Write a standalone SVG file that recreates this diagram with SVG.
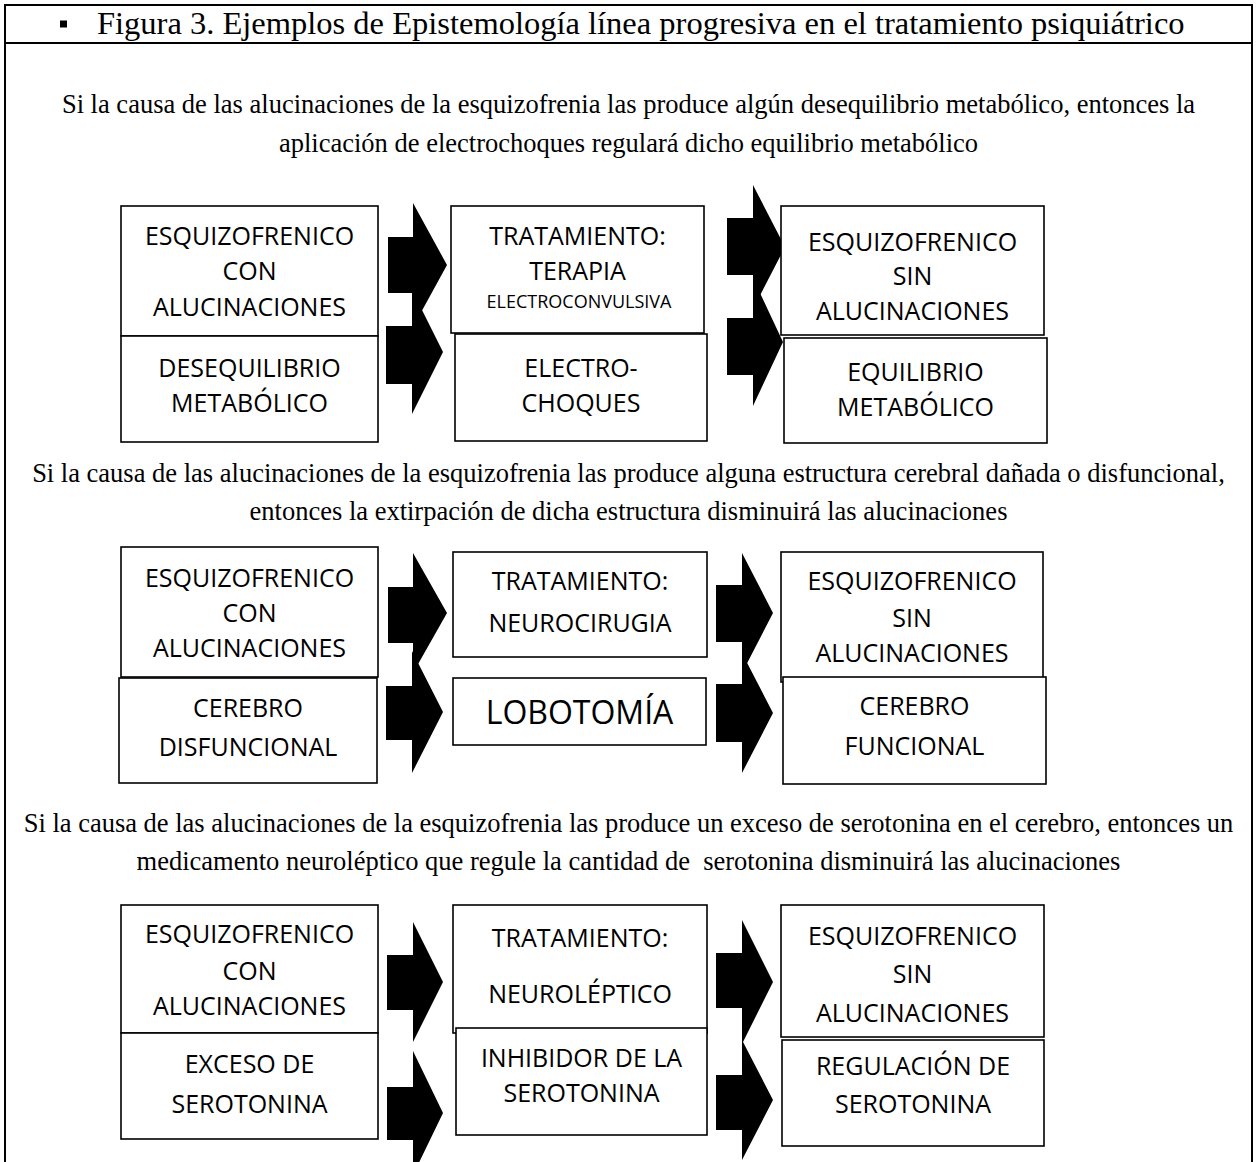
<svg xmlns="http://www.w3.org/2000/svg" width="1257" height="1162" viewBox="0 0 1257 1162">
  <style>
    .frame { fill: none; stroke: #000; stroke-width: 2; }
    .box { fill: #fff; stroke: #000; stroke-width: 1.6; }
    .arrow { fill: #000; stroke: none; }
    .lbl { font-family: "Open Sans", "Noto Sans", sans-serif; font-size: 25px; fill: #000; text-anchor: middle; }
    .small { font-size: 18px; }
    .big { font-size: 32px; }
    .title { font-family: "Liberation Serif", "Times New Roman", serif; font-size: 32.5px; fill: #000; }
    .para { font-family: "Liberation Serif", "Times New Roman", serif; font-size: 26.5px; fill: #000; text-anchor: middle; }
  </style>
  <rect width="1257" height="1162" fill="#fff"/>

  <!-- table frame -->
  <g id="frame">
    <line class="frame" x1="5" y1="5" x2="1252" y2="5"/>
    <line class="frame" x1="5" y1="43" x2="1252" y2="43"/>
    <line class="frame" x1="5" y1="4" x2="5" y2="1162"/>
    <line class="frame" x1="1252" y1="4" x2="1252" y2="1162"/>
  </g>

  <!-- caption -->
  <g id="caption">
    <rect x="60" y="20.5" width="7" height="7" fill="#000"/>
    <text class="title" x="97" y="34">Figura 3. Ejemplos de Epistemología línea progresiva en el tratamiento psiquiátrico</text>
  </g>

  <!-- hypotheses -->
  <g id="hypotheses">
    <text class="para" x="628.5" y="113">Si la causa de las alucinaciones de la esquizofrenia las produce algún desequilibrio metabólico, entonces la</text>
    <text class="para" x="628.5" y="152">aplicación de electrochoques regulará dicho equilibrio metabólico</text>
    <text class="para" x="628.5" y="482">Si la causa de las alucinaciones de la esquizofrenia las produce alguna estructura cerebral dañada o disfuncional,</text>
    <text class="para" x="628.5" y="520">entonces la extirpación de dicha estructura disminuirá las alucinaciones</text>
    <text class="para" x="628.5" y="832">Si la causa de las alucinaciones de la esquizofrenia las produce un exceso de serotonina en el cerebro, entonces un</text>
    <text class="para" x="628.5" y="870" xml:space="preserve">medicamento neuroléptico que regule la cantidad de  serotonina disminuirá las alucinaciones</text>
  </g>

  <!-- block arrows -->
  <g id="connectors">
    <polygon class="arrow" points="388,237 413,237 413,203 447,265 413,327 413,293 388,293"/>
    <polygon class="arrow" points="386,326 412,326 412,290 443,352 412,414 412,384 386,384"/>
    <polygon class="arrow" points="727,218 753,218 753,185 785,247 753,309 753,275 727,275"/>
    <polygon class="arrow" points="727,318 753,318 753,278 783,342 753,406 753,375 727,375"/>

    <polygon class="arrow" points="388,587 413,587 413,553 447,613 413,673 413,643 388,643"/>
    <polygon class="arrow" points="386,686 412,686 412,651 443,712 412,773 412,740 386,740"/>
    <polygon class="arrow" points="716,585 742,585 742,553 773,613 742,673 742,642 716,642"/>
    <polygon class="arrow" points="716,684 742,684 742,653 773,713 742,773 742,742 716,742"/>

    <polygon class="arrow" points="387,955 413,955 413,922 443,982 413,1042 413,1010 387,1010"/>
    <polygon class="arrow" points="387,1087 413,1087 413,1051 443,1113 413,1175 413,1140 387,1140"/>
    <polygon class="arrow" points="716,953 742,953 742,920 773,982 742,1044 742,1008 716,1008"/>
    <polygon class="arrow" points="716,1075 742,1075 742,1040 773,1100 742,1160 742,1130 716,1130"/>
  </g>

  <!-- row 1: electroconvulsive therapy -->
  <g id="r1-patient">
    <rect class="box" x="121" y="206" width="257" height="130"/>
    <text class="lbl" x="249.5" y="245">ESQUIZOFRENICO</text>
    <text class="lbl" x="249.5" y="280">CON</text>
    <text class="lbl" x="249.5" y="315.5">ALUCINACIONES</text>
  </g>
  <g id="r1-cause">
    <rect class="box" x="121" y="336" width="257" height="106"/>
    <text class="lbl" x="249.5" y="377">DESEQUILIBRIO</text>
    <text class="lbl" x="249.5" y="412">METABÓLICO</text>
  </g>
  <g id="r1-treatment">
    <rect class="box" x="451" y="206" width="253" height="127"/>
    <text class="lbl" x="577.5" y="245">TRATAMIENTO:</text>
    <text class="lbl" x="577.5" y="280">TERAPIA</text>
    <text class="lbl small" x="579" y="308">ELECTROCONVULSIVA</text>
  </g>
  <g id="r1-method">
    <rect class="box" x="455" y="334" width="252" height="107"/>
    <text class="lbl" x="581" y="377">ELECTRO-</text>
    <text class="lbl" x="581" y="412">CHOQUES</text>
  </g>
  <g id="r1-result">
    <rect class="box" x="781" y="206" width="263" height="129"/>
    <text class="lbl" x="912.5" y="251">ESQUIZOFRENICO</text>
    <text class="lbl" x="912.5" y="285">SIN</text>
    <text class="lbl" x="912.5" y="320">ALUCINACIONES</text>
  </g>
  <g id="r1-effect">
    <rect class="box" x="784" y="338" width="263" height="105"/>
    <text class="lbl" x="915.5" y="381">EQUILIBRIO</text>
    <text class="lbl" x="915.5" y="416">METABÓLICO</text>
  </g>

  <!-- row 2: neurosurgery -->
  <g id="r2-patient">
    <rect class="box" x="121" y="547" width="257" height="130"/>
    <text class="lbl" x="249.5" y="587">ESQUIZOFRENICO</text>
    <text class="lbl" x="249.5" y="622">CON</text>
    <text class="lbl" x="249.5" y="657">ALUCINACIONES</text>
  </g>
  <g id="r2-cause">
    <rect class="box" x="119" y="678" width="258" height="105"/>
    <text class="lbl" x="248" y="717">CEREBRO</text>
    <text class="lbl" x="248" y="756">DISFUNCIONAL</text>
  </g>
  <g id="r2-treatment">
    <rect class="box" x="453" y="552" width="254" height="105"/>
    <text class="lbl" x="580" y="590">TRATAMIENTO:</text>
    <text class="lbl" x="580" y="632">NEUROCIRUGIA</text>
  </g>
  <g id="r2-method">
    <rect class="box" x="453" y="678" width="253" height="67"/>
    <text class="lbl big" x="579.5" y="724">LOBOTOMÍA</text>
  </g>
  <g id="r2-result">
    <rect class="box" x="781" y="552" width="262" height="130"/>
    <text class="lbl" x="912" y="590">ESQUIZOFRENICO</text>
    <text class="lbl" x="912" y="627">SIN</text>
    <text class="lbl" x="912" y="662">ALUCINACIONES</text>
  </g>
  <g id="r2-effect">
    <rect class="box" x="783" y="677" width="263" height="107"/>
    <text class="lbl" x="914.5" y="715">CEREBRO</text>
    <text class="lbl" x="914.5" y="755">FUNCIONAL</text>
  </g>

  <!-- row 3: neuroleptic medication -->
  <g id="r3-patient">
    <rect class="box" x="121" y="905" width="257" height="128"/>
    <text class="lbl" x="249.5" y="943">ESQUIZOFRENICO</text>
    <text class="lbl" x="249.5" y="980">CON</text>
    <text class="lbl" x="249.5" y="1015">ALUCINACIONES</text>
  </g>
  <g id="r3-cause">
    <rect class="box" x="121" y="1033" width="257" height="106"/>
    <text class="lbl" x="249.5" y="1073">EXCESO DE</text>
    <text class="lbl" x="249.5" y="1113">SEROTONINA</text>
  </g>
  <g id="r3-treatment">
    <rect class="box" x="453" y="905" width="254" height="128"/>
    <text class="lbl" x="580" y="947">TRATAMIENTO:</text>
    <text class="lbl" x="580" y="1003">NEUROLÉPTICO</text>
  </g>
  <g id="r3-method">
    <rect class="box" x="456" y="1028" width="251" height="107"/>
    <text class="lbl" x="581.5" y="1067">INHIBIDOR DE LA</text>
    <text class="lbl" x="581.5" y="1102">SEROTONINA</text>
  </g>
  <g id="r3-result">
    <rect class="box" x="781" y="905" width="263" height="132"/>
    <text class="lbl" x="912.5" y="945">ESQUIZOFRENICO</text>
    <text class="lbl" x="912.5" y="983">SIN</text>
    <text class="lbl" x="912.5" y="1022">ALUCINACIONES</text>
  </g>
  <g id="r3-effect">
    <rect class="box" x="782" y="1040" width="262" height="106"/>
    <text class="lbl" x="913" y="1075">REGULACIÓN DE</text>
    <text class="lbl" x="913" y="1113">SEROTONINA</text>
  </g>
</svg>
